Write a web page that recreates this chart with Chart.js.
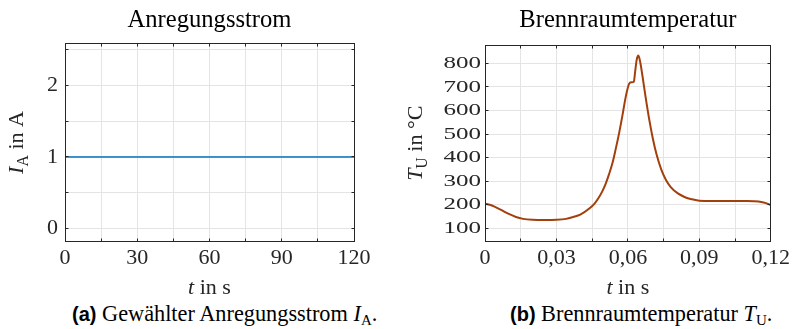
<!DOCTYPE html>
<html>
<head>
<meta charset="utf-8">
<script src="https://cdn.jsdelivr.net/npm/chart.js@4/dist/chart.umd.min.js"></script>
<style>
html, body { margin: 0; padding: 0; background: #fff; }
body { width: 794px; height: 329px; position: relative; overflow: hidden; font-family: "Liberation Serif", serif; }
#wrapA { position: absolute; left: 0; top: 0; width: 400px; height: 300px; }
#wrapB { position: absolute; left: 400px; top: 0; width: 394px; height: 300px; }
.cap { position: absolute; top: 303px; font-size: 22.3px; line-height: 22px; color: #000; white-space: nowrap; }
.cap b { font-family: "Liberation Sans", Arial, sans-serif; font-weight: bold; font-size: 20px; }
.cap sub { font-size: 15px; vertical-align: -4px; line-height: 0; }
</style>
</head>
<body>
<div id="wrapA"><canvas id="chartA" width="400" height="300"></canvas></div>
<div id="wrapB"><canvas id="chartB" width="394" height="300"></canvas></div>
<div class="cap" style="left:72px"><b>(a)</b> Gewählter Anregungsstrom <i>I</i><sub>A</sub>.</div>
<div class="cap" style="left:510px"><b>(b)</b> Brennraumtemperatur <i>T</i><sub>U</sub>.</div>
<script>
// Excitation current (constant over the whole run)
const timeA = [0, 120];
const currentA = [1, 1];
const xTicksA = ['0', '30', '60', '90', '120'];
const yTicksA = ['0', '1', '2'];

// Combustion chamber temperature over one cycle
const timeB = [0, 0.002, 0.004, 0.007, 0.010, 0.013, 0.016, 0.020, 0.025, 0.030,
  0.034, 0.037, 0.040, 0.0438, 0.046, 0.048, 0.0493, 0.0507, 0.0521, 0.0535,
  0.0549, 0.0563, 0.0577, 0.0591, 0.0605, 0.0615, 0.0625, 0.063, 0.0637, 0.0644,
  0.0652, 0.066, 0.0674, 0.069, 0.0705, 0.072, 0.074, 0.076, 0.078, 0.081,
  0.084, 0.087, 0.090, 0.095, 0.100, 0.105, 0.110, 0.113, 0.116, 0.118, 0.120];
const tempB = [205, 200, 192, 177, 161, 148, 140, 136, 135, 136,
  140, 148, 158, 184, 205, 234, 258, 290, 330, 376,
  437, 503, 578, 658, 713, 720, 722, 760, 815, 833,
  805, 755, 660, 560, 480, 415, 350, 305, 275, 248,
  232, 223, 217, 216, 216, 216, 216, 215, 212, 207, 199];
const xTicksB = ['0', '0,03', '0,06', '0,09', '0,12'];
const yTicksB = ['100', '200', '300', '400', '500', '600', '700', '800'];

const SERIF = '"Liberation Serif", "Times New Roman", serif';
const INK = '#262626';
const GRID = '#e4e4e4';

function alignPx(v) { return Math.round(v - 0.5) + 0.5; }

function drawRich(ctx, parts, x, y, size) {
  let w = 0;
  const items = parts.map(p => {
    const s = p.sub ? size * 0.72 : size;
    const f = (p.italic ? 'italic ' : '') + s + 'px ' + SERIF;
    ctx.font = f;
    const pw = ctx.measureText(p.text).width;
    w += pw;
    return { f, pw, dy: p.sub ? size * 0.22 : 0 };
  });
  let cx = x - w / 2;
  ctx.textAlign = 'left';
  ctx.textBaseline = 'alphabetic';
  parts.forEach((p, i) => {
    ctx.font = items[i].f;
    ctx.fillText(p.text, cx, y + items[i].dy);
    cx += items[i].pw;
  });
}

// Box around the axes, inward tick marks on all four sides, titles
const framePlugin = {
  id: 'frame',
  beforeDraw(chart, args, opts) {
    const ys = chart.scales.y;
    if (opts.stretchY && !ys._stretched) {
      const orig = ys.drawLabels;
      ys.drawLabels = function (area) {
        const c = this.ctx;
        const ax = this.right - this.options.ticks.padding;
        c.save();
        c.translate(ax, 0);
        c.scale(opts.stretchY, 1);
        c.translate(-ax, 0);
        orig.call(this, area);
        c.restore();
      };
      ys._stretched = true;
    }
  },
  afterDatasetsDraw(chart) {
    const { ctx, chartArea: a, scales: { x, y } } = chart;
    const L = alignPx(a.left), R = alignPx(a.right), T = alignPx(a.top), B = alignPx(a.bottom);
    ctx.save();
    ctx.strokeStyle = INK;
    ctx.lineWidth = 1;
    ctx.beginPath();
    const tl = 3;
    x.ticks.forEach(t => {
      const p = alignPx(x.getPixelForValue(t.value));
      ctx.moveTo(p, B); ctx.lineTo(p, B - tl);
      ctx.moveTo(p, T); ctx.lineTo(p, T + tl);
    });
    y.ticks.forEach(t => {
      const p = alignPx(y.getPixelForValue(t.value));
      ctx.moveTo(L, p); ctx.lineTo(L + tl, p);
      ctx.moveTo(R, p); ctx.lineTo(R - tl, p);
    });
    ctx.stroke();
    ctx.strokeRect(L, T, R - L, B - T);
    ctx.restore();
  },
  afterDraw(chart, args, opts) {
    const { ctx, chartArea: a } = chart;
    const cx = (a.left + a.right) / 2;
    ctx.save();
    ctx.fillStyle = '#000';
    ctx.font = '24.6px ' + SERIF;
    ctx.textAlign = 'center';
    ctx.textBaseline = 'alphabetic';
    ctx.fillText(opts.title, cx, 27);
    ctx.fillStyle = INK;
    drawRich(ctx, opts.xTitle, cx, opts.xTitleY, 22);
    ctx.translate(opts.yTitleX, (a.top + a.bottom) / 2);
    ctx.rotate(-Math.PI / 2);
    drawRich(ctx, opts.yTitle, 0, 0, 22);
    ctx.restore();
  }
};

function labelAt(list, step, first) {
  return function (v) {
    const k = (v - first) / step;
    const r = Math.round(k);
    return Math.abs(k - r) < 1e-6 && list[r] !== undefined ? list[r] : '';
  };
}

function axis(min, max, step, cb, font, pad, fit) {
  return {
    type: 'linear',
    min, max,
    ticks: {
      stepSize: step, includeBounds: false, autoSkip: false, maxRotation: 0,
      callback: cb, color: INK, padding: pad,
      font: { family: SERIF, size: font }
    },
    grid: { color: GRID, lineWidth: 1, drawTicks: false },
    border: { display: false },
    afterFit: fit
  };
}

function makeChart(id, cfg) {
  return new Chart(document.getElementById(id), {
    type: 'line',
    data: {
      datasets: [{
        data: cfg.xs.map((v, i) => ({ x: v, y: cfg.ys[i] })),
        borderColor: cfg.color,
        borderWidth: cfg.width,
        pointRadius: 0,
        fill: false,
        cubicInterpolationMode: 'monotone'
      }]
    },
    options: {
      responsive: false,
      animation: false,
      events: [],
      layout: { padding: { left: 0, right: cfg.padRight, top: cfg.padTop, bottom: 0 } },
      plugins: {
        legend: { display: false },
        tooltip: { enabled: false },
        title: { display: false },
        frame: cfg.frame
      },
      scales: {
        x: axis(cfg.xMin, cfg.xMax, cfg.xStep, cfg.xCb, 22, 4, s => { s.height = 58.5; }),
        y: axis(cfg.yMin, cfg.yMax, cfg.yStep, cfg.yCb, cfg.yFont, cfg.yPad, s => { s.width = cfg.yWidth; })
      }
    },
    plugins: [framePlugin]
  });
}

makeChart('chartA', {
  xs: timeA, ys: currentA, color: '#0072BD', width: 1.5,
  padTop: 43.5, padRight: 46,
  xMin: 0, xMax: 120, xStep: 15, xCb: labelAt(xTicksA, 30, 0),
  yMin: -0.185, yMax: 2.59, yStep: 0.5, yCb: labelAt(yTicksA, 1, 0),
  yFont: 22, yPad: 7, yWidth: 65,
  frame: {
    title: 'Anregungsstrom',
    xTitle: [{ text: 't', italic: true }, { text: ' in s' }], xTitleY: 294,
    yTitle: [{ text: 'I', italic: true }, { text: 'A', sub: true }, { text: ' in A' }], yTitleX: 23
  }
});

makeChart('chartB', {
  xs: timeB, ys: tempB, color: '#A33F0C', width: 2,
  padTop: 45, padRight: 21,
  xMin: 0, xMax: 0.12, xStep: 0.015, xCb: labelAt(xTicksB, 0.03, 0),
  yMin: 44, yMax: 878, yStep: 100, yCb: labelAt(yTicksB, 100, 100),
  yFont: 17.5, yPad: 4, yWidth: 85,
  frame: {
    title: 'Brennraumtemperatur',
    stretchY: 1.43,
    xTitle: [{ text: 't', italic: true }, { text: ' in s' }], xTitleY: 294,
    yTitle: [{ text: 'T', italic: true }, { text: 'U', sub: true }, { text: ' in °C' }], yTitleX: 22
  }
});
</script>
</body>
</html>
